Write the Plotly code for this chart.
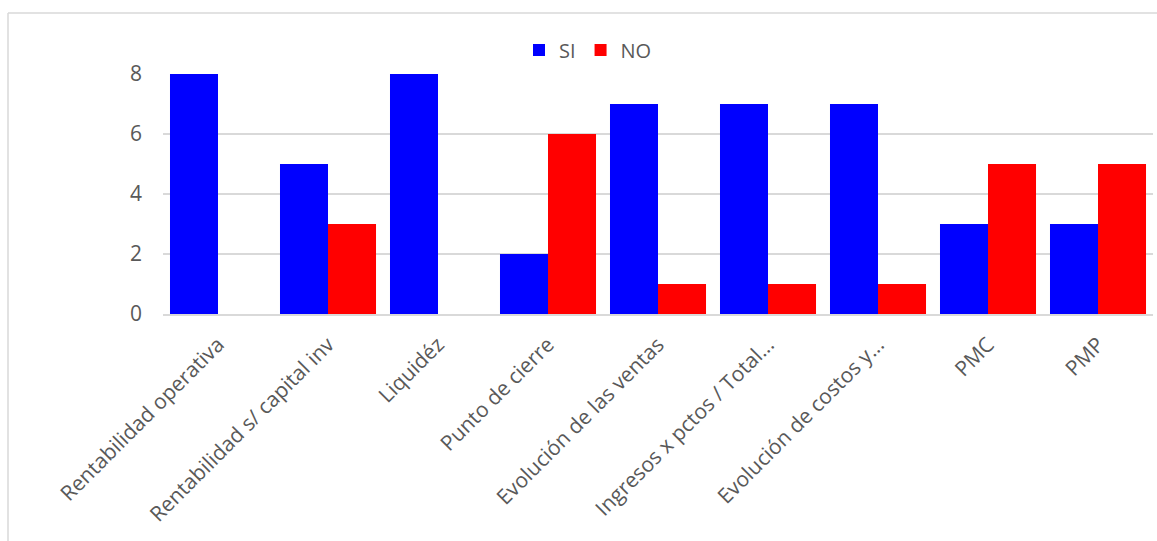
import plotly.graph_objects as go

categorias = [
    "Rentabilidad operativa",
    "Rentabilidad s/ capital inv",
    "Liquidéz",
    "Punto de cierre",
    "Evolución de las ventas",
    "Ingresos x pctos / Total...",
    "Evolución de costos y...",
    "PMC",
    "PMP",
]
si = [8, 5, 8, 2, 7, 7, 7, 3, 3]
no = [0, 3, 0, 6, 1, 1, 1, 5, 5]

W, H = 1157, 541
L, R, T, B = 163, 4, 74, 227
pw, ph = W - L - R, H - T - B

fig = go.Figure()
fig.add_trace(go.Bar(name="SI", x=categorias, y=si, marker=dict(color="#0000FF", line=dict(width=0))))
fig.add_trace(go.Bar(name="NO", x=categorias, y=no, marker=dict(color="#FF0000", line=dict(width=0))))

font = dict(family="Open Sans, Calibri, sans-serif", size=21, color="#595959")
legend_font = dict(family="Open Sans, Calibri, sans-serif", size=20, color="#595959")

fig.update_layout(
    width=W, height=H,
    margin=dict(l=L, r=R, t=T, b=B),
    paper_bgcolor="white", plot_bgcolor="white",
    barmode="group", bargap=0.127, bargroupgap=0,
    font=font,
    legend=dict(orientation="h", x=(588 - L) / pw, xanchor="center",
                y=(ph + T - 50) / ph, yanchor="middle", font=legend_font,
                itemsizing="constant", itemwidth=30, tracegroupgap=0),
    xaxis=dict(tickangle=-45, showline=True, linecolor="#d9d9d9", linewidth=2,
               ticks="", tickfont=font, ticklabelstandoff=8, automargin=False),
    yaxis=dict(range=[0, 8], tickvals=[0, 2, 4, 6, 8], showgrid=True,
               gridcolor="#d9d9d9", gridwidth=1.5, zeroline=False, ticks="",
               ticklabelstandoff=20, tickfont=font, automargin=False),
    shapes=[
        dict(type="line", xref="paper", yref="paper",
             x0=(8 - L) / pw, x1=(W - L) / pw,
             y0=(ph + T - 13) / ph, y1=(ph + T - 13) / ph,
             line=dict(color="#d9d9d9", width=1.5)),
        dict(type="line", xref="paper", yref="paper",
             x0=(8 - L) / pw, x1=(8 - L) / pw,
             y0=(ph + T - 13) / ph, y1=(ph + T - H) / ph,
             line=dict(color="#d9d9d9", width=1.5)),
    ],
)

fig.write_html("out.html")
